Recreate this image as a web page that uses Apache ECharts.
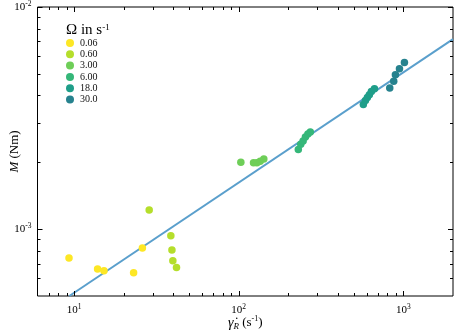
<!DOCTYPE html>
<html>
<head>
<meta charset="utf-8">
<script src="https://cdn.jsdelivr.net/npm/echarts@6/dist/echarts.min.js"></script>
<style>
  html, body { margin: 0; padding: 0; background: #fff; }
  #chart { width: 460px; height: 336px; }
</style>
</head>
<body>
<div id="chart"></div>
<script>
// rotation speed groups (legend)
const omegaLabels = ['0.06', '0.60', '3.00', '6.00', '18.0', '30.0']
const omegaColors = ['#fde725', '#b5de2b', '#6ece58', '#35b779', '#1f9e89', '#26828e']

// shear rate (s^-1) and torque (Nm) per group
const shear006 = [9.32, 13.9, 15.2, 23.0, 26.0]
const torque006 = [7.41e-4, 6.62e-4, 6.5e-4, 6.37e-4, 8.22e-4]
const shear060 = [28.6, 38.7, 39.3, 39.8, 41.9]
const torque060 = [1.22e-3, 9.33e-4, 8.05e-4, 7.2e-4, 6.71e-4]
const shear300 = [103, 123, 129, 135, 142]
const torque300 = [2.0e-3, 1.99e-3, 1.99e-3, 2.02e-3, 2.07e-3]
const shear600 = [230, 238, 246, 254, 263, 272]
const torque600 = [2.28e-3, 2.41e-3, 2.49e-3, 2.6e-3, 2.68e-3, 2.74e-3]
const shear180 = [571, 588, 604, 621, 639, 667]
const torque180 = [3.64e-3, 3.79e-3, 3.91e-3, 4.03e-3, 4.16e-3, 4.29e-3]
const shear30 = [826, 873, 894, 946, 1014]
const torque30 = [4.32e-3, 4.63e-3, 4.96e-3, 5.27e-3, 5.63e-3]

// fitted power law, end points
const fitShear = [9.36, 2000]
const fitTorque = [5.0e-4, 7.17e-3]

// axis ranges and ticks
const xMin = 6, xMax = 2000
const yMin = 5e-4, yMax = 1e-2
const xMajorTicks = [10, 100, 1000]
const xMinorTicks = [7, 8, 9, 20, 30, 40, 50, 60, 70, 80, 90, 200, 300, 400, 500, 600, 700, 800, 900]
const yMajorTicks = [1e-3, 1e-2]
const yMinorTicks = [6e-4, 7e-4, 8e-4, 9e-4, 2e-3, 3e-3, 4e-3, 5e-3, 6e-3, 7e-3, 8e-3, 9e-3]

const groups = [
  [shear006, torque006], [shear060, torque060], [shear300, torque300],
  [shear600, torque600], [shear180, torque180], [shear30, torque30]
]

const serif = '"Liberation Serif", "Times New Roman", serif'

const powLabel = v => {
  const l = Math.log10(v)
  const e = Math.round(l)
  if (Math.abs(l - e) > 1e-6) return ''
  return '{b|10}{s|' + e + '}'
}
const powRich = {
  b: { fontFamily: serif, fontSize: 11, color: '#000', lineHeight: 14 },
  s: { fontFamily: serif, fontSize: 7.5, color: '#000', verticalAlign: 'top', lineHeight: 8 }
}

// tick marks on all four sides, pointing inward
const tickData = []
xMajorTicks.forEach(v => tickData.push([v, 0, 5]))
xMinorTicks.forEach(v => tickData.push([v, 0, 3]))
yMajorTicks.forEach(v => tickData.push([v, 1, 5]))
yMinorTicks.forEach(v => tickData.push([v, 1, 3]))

const renderTick = (params, api) => {
  const v = api.value(0)
  const isY = api.value(1) === 1
  const len = api.value(2)
  const style = { stroke: '#000', lineWidth: 1 }
  if (!isY) {
    const b = api.coord([v, yMin])
    const t = api.coord([v, yMax])
    const x = Math.round(b[0]) + 0.5
    return {
      type: 'group',
      children: [
        { type: 'line', shape: { x1: x, y1: b[1], x2: x, y2: b[1] - len }, style },
        { type: 'line', shape: { x1: x, y1: t[1], x2: x, y2: t[1] + len }, style }
      ]
    }
  }
  const l = api.coord([xMin, v])
  const r = api.coord([xMax, v])
  const y = Math.round(l[1]) + 0.5
  return {
    type: 'group',
    children: [
      { type: 'line', shape: { x1: l[0], y1: y, x2: l[0] + len, y2: y }, style },
      { type: 'line', shape: { x1: r[0], y1: y, x2: r[0] - len, y2: y }, style }
    ]
  }
}

const chart = echarts.init(document.getElementById('chart'))

const scatterSeries = groups.map((g, i) => ({
  name: omegaLabels[i],
  type: 'scatter',
  data: g[0].map((x, j) => [x, g[1][j]]),
  symbolSize: 7.5,
  itemStyle: { color: omegaColors[i], opacity: 1 },
  z: 3
}))

const option = {
  animation: false,
  title: {
    text: 'Ω in s{s|-1}',
    left: 61,
    top: 18,
    textStyle: {
      fontFamily: serif, fontSize: 15, fontWeight: 'normal', color: '#000',
      rich: {
        s: { fontFamily: serif, fontSize: 9, color: '#000', verticalAlign: 'top', lineHeight: 9 }
      }
    }
  },
  legend: {
    data: omegaLabels,
    orient: 'vertical',
    left: 66,
    top: 38,
    padding: 0,
    itemGap: 1.3,
    itemWidth: 10,
    itemHeight: 8,
    icon: 'circle',
    textStyle: { fontFamily: serif, fontSize: 10, color: '#111', lineHeight: 10 }
  },
  grid: {
    left: 37.5,
    right: 7,
    top: 7,
    bottom: 40,
    containLabel: false,
    outerBoundsMode: 'none',
    show: true,
    borderColor: '#000',
    borderWidth: 1,
    backgroundColor: 'transparent'
  },
  xAxis: {
    type: 'log',
    logBase: 10,
    min: xMin,
    max: xMax,
    axisLine: { show: false },
    axisTick: { show: false },
    splitLine: { show: false },
    axisLabel: { margin: 7, formatter: powLabel, rich: powRich, showMinLabel: false, showMaxLabel: false },
    name: '{g|γ̇}{r|R} (s{s|-1})',
    nameLocation: 'middle',
    nameMoveOverlap: false,
    nameGap: 19,
    nameTextStyle: {
      fontFamily: serif, fontSize: 13, color: '#000',
      rich: {
        g: { fontFamily: serif, fontSize: 14, fontStyle: 'italic', color: '#000', lineHeight: 16 },
        r: { fontFamily: serif, fontSize: 9, fontStyle: 'italic', color: '#000', verticalAlign: 'bottom', lineHeight: 9 },
        s: { fontFamily: serif, fontSize: 8, color: '#000', verticalAlign: 'top', lineHeight: 8 }
      }
    }
  },
  yAxis: {
    type: 'log',
    logBase: 10,
    min: yMin,
    max: yMax,
    axisLine: { show: false },
    axisTick: { show: false },
    splitLine: { show: false },
    axisLabel: { margin: 6, formatter: powLabel, rich: powRich },
    name: '{m|M} (Nm)',
    nameLocation: 'middle',
    nameMoveOverlap: false,
    nameGap: 16,
    nameTextStyle: {
      fontFamily: serif, fontSize: 13, color: '#000',
      rich: { m: { fontFamily: serif, fontSize: 13, fontStyle: 'italic', color: '#000' } }
    }
  },
  series: [
    {
      name: 'fit',
      type: 'line',
      data: fitShear.map((x, i) => [x, fitTorque[i]]),
      showSymbol: false,
      lineStyle: { color: '#5a9fcc', width: 2 },
      z: 2
    },
    ...scatterSeries,
    {
      name: 'ticks',
      type: 'custom',
      data: tickData,
      renderItem: renderTick,
      silent: true,
      clip: false,
      z: 5
    }
  ]
}

chart.setOption(option)
window.addEventListener('resize', () => chart.resize())
</script>
</body>
</html>
